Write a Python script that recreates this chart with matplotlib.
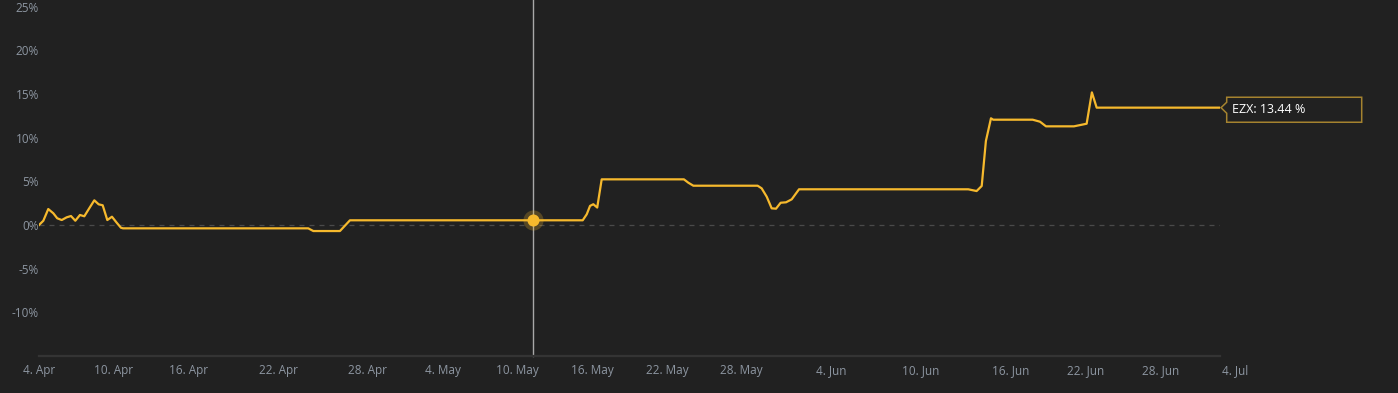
import matplotlib
matplotlib.use("Agg")
import matplotlib.pyplot as plt
from matplotlib.patches import Polygon

# x is in trading days after 4 Apr (the axis is ordinal, weekends skipped)
day_pos = [0, 0.29, 0.62, 0.96, 1.22, 1.52, 1.85, 2.14, 2.43, 2.74, 3.03, 3.36,
           3.70, 3.99, 4.26, 4.57, 4.88, 5.20, 5.48, 5.62, 18.01, 18.35, 20.13,
           20.80, 36.37, 36.64, 36.86, 37.08, 37.34, 37.64, 43.14, 43.43, 43.77,
           48.07, 48.34, 48.68, 49.01, 49.30, 49.61, 49.97, 50.35, 50.84, 62.16,
           62.72, 63.06, 63.34, 63.68, 63.83, 66.47, 66.96, 67.36, 69.23, 70.08,
           70.43, 70.75, 79.0]
ezx_pct = [0.0, 0.49, 1.83, 1.34, 0.77, 0.57, 0.88, 1.03, 0.49, 1.15, 1.0, 1.91,
           2.83, 2.37, 2.26, 0.57, 0.95, 0.26, -0.31, -0.38, -0.38, -0.69, -0.69,
           0.54, 0.54, 1.23, 2.19, 2.38, 2.0, 5.23, 5.23, 4.85, 4.5,
           4.5, 4.2, 3.24, 1.91, 1.87, 2.55, 2.6, 2.94, 4.09, 4.09,
           3.89, 4.47, 9.62, 12.22, 12.06, 12.06, 11.83, 11.3, 11.3, 11.6,
           15.19, 13.44, 13.44]

hover_day = 33.04
hover_val = 0.54

tick_days = [0, 5, 10, 16, 22, 27, 32, 37, 42, 47, 53, 59, 65, 70, 75]
tick_labels = ["4. Apr", "10. Apr", "16. Apr", "22. Apr", "28. Apr", "4. May",
               "10. May", "16. May", "22. May", "28. May", "4. Jun", "10. Jun",
               "16. Jun", "22. Jun", "28. Jun"]
last_tick_day = 80
last_tick_label = "4. Jul"
y_ticks = [-10, -5, 0, 5, 10, 15, 20, 25]

bg = "#212121"
gold = "#f6b92d"
label_col = "#8d96a1"

plt.rcParams["font.family"] = ["Open Sans", "DejaVu Sans"]

fig = plt.figure(figsize=(13.98, 3.93), dpi=100, facecolor=bg)
ax = fig.add_axes([39 / 1398, 1 - 356 / 393, (1220 - 39) / 1398, (356 - 6.7) / 393])
ax.set_facecolor(bg)

ax.set_xlim(0, 79)
ax.set_ylim(-15, 25)

for s in ["top", "right", "left"]:
    ax.spines[s].set_visible(False)
ax.spines["bottom"].set_color("#343434")
ax.spines["bottom"].set_linewidth(1.6)

ax.axhline(0, color="#4a4a4a", lw=0.9, ls=(0, (4, 4)), zorder=1)

ax.set_yticks(y_ticks)
ax.set_yticklabels([f"{v}%" for v in y_ticks])
ax.set_xticks(tick_days)
ax.set_xticklabels(tick_labels)
ax.tick_params(axis="y", length=0, pad=0, labelsize=8.5, labelcolor=label_col)
ax.tick_params(axis="x", length=0, pad=6, labelsize=8.5, labelcolor=label_col)

# the last label sits past the plot area, so it is not a regular tick
ax.annotate(last_tick_label, xy=(last_tick_day, 0), xycoords=("data", "axes fraction"),
            xytext=(0, -6), textcoords="offset points", ha="center", va="top",
            fontsize=8.5, color=label_col, annotation_clip=False)

# crosshair
ax.axvline(hover_day, ymin=0, ymax=1.02, color="#a8a8a8", lw=1, clip_on=False, zorder=2)

ax.plot(day_pos, ezx_pct, color=gold, lw=1.6, zorder=3, solid_joinstyle="round")

ax.scatter([hover_day], [hover_val], s=210, color=gold, alpha=0.25, lw=0, zorder=4)
ax.scatter([hover_day], [hover_val], s=75, color=gold, lw=0, zorder=5)

# tooltip at the last point
fig.canvas.draw()
px, py = ax.transData.transform((day_pos[-1], ezx_pct[-1]))
offs = [(6.7, 10.4), (141.7, 10.4), (141.7, -14.6), (6.7, -14.6), (6.7, -5.6),
        (1.0, 0.0), (6.7, 5.4)]
tip = Polygon([(px + dx, py + dy) for dx, dy in offs], closed=True, transform=None,
              fc=bg, ec="#a5832f", lw=1.1, zorder=6)
fig.add_artist(tip)
fig.text((px + 12) / 1398, (py - 1.8) / 393, f"EZX: {ezx_pct[-1]:.2f} %",
         color="white", fontsize=9, ha="left", va="center", zorder=7)

fig.savefig("out.png", dpi=100, facecolor=bg)
